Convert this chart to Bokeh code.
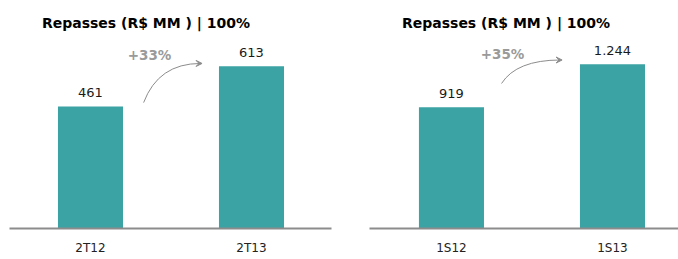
from bokeh.plotting import figure
from bokeh.layouts import row
from bokeh.models import Range1d, FixedTicker, LabelSet, Label, ColumnDataSource, Arrow, VeeHead
from bokeh.core.properties import value
from bokeh.embed import file_html
from bokeh.resources import INLINE

# ---- data ----
title_text = "Repasses (R$ MM ) | 100%"
left_categories = ["2T12", "2T13"]
left_values = [461, 613]
left_value_labels = ["461", "613"]
right_categories = ["1S12", "1S13"]
right_values = [919, 1244]
right_value_labels = ["919", "1.244"]

TEAL = "#3CA3A4"
GRAY = "#8C8C8C"
FONT = "DejaVu Sans"


def panel(cats, vals, labels, width, bl, br, xr, y_end, title_x, growth_x, growth_off, arrow):
    p = figure(width=width, height=259, output_backend="svg", toolbar_location=None,
               x_range=Range1d(*xr), y_range=Range1d(0, y_end), y_axis_location=None,
               min_border_left=bl, min_border_right=br, min_border_top=0, min_border_bottom=31)
    p.outline_line_color = None
    p.xgrid.grid_line_color = None
    p.ygrid.grid_line_color = None
    p.background_fill_color = "white"
    p.border_fill_color = "white"

    idx = list(range(len(cats)))
    src = ColumnDataSource(dict(x=idx, top=vals, text=labels))
    p.vbar(x="x", top="top", width=0.404, source=src, fill_color=TEAL, line_color=None)

    ax = p.xaxis[0]
    ax.ticker = FixedTicker(ticks=idx)
    ax.major_label_overrides = {i: c for i, c in zip(idx, cats)}
    ax.major_tick_out = 0
    ax.major_tick_in = 0
    ax.minor_tick_out = 0
    ax.minor_tick_in = 0
    ax.axis_line_color = GRAY
    ax.axis_line_width = 2
    ax.major_label_standoff = 12
    ax.major_label_text_font = FONT
    ax.major_label_text_font_size = "12px"
    ax.major_label_text_color = "#222222"

    p.add_layout(LabelSet(x="x", y="top", text="text", source=src, y_offset=14,
                          text_align="center", text_baseline="middle",
                          text_font=value(FONT), text_font_size="13px", text_color="#1a1a1a"))

    p.add_layout(Label(x=title_x, y=y_end, y_offset=-22, text=title_text,
                       text_align="center", text_baseline="middle", text_font=FONT,
                       text_font_style="bold", text_font_size="14px", text_color="#000000"))

    pct = round((vals[1] / vals[0] - 1) * 100)
    p.add_layout(Label(x=growth_x, y=vals[1], y_offset=growth_off, text=f"+{pct}%",
                       text_align="center", text_baseline="middle", text_font=FONT,
                       text_font_style="bold", text_font_size="13.5px", text_color="#9A9A9A"))

    x0, y0, cx, cy, x1, y1 = arrow
    p.quadratic(x0=[x0], y0=[y0], cx=[cx], cy=[cy], x1=[x1], y1=[y1],
                line_color=GRAY, line_width=1)
    p.add_layout(Arrow(end=VeeHead(size=6, line_color=GRAY, fill_color=GRAY, line_width=1),
                       x_start=x1 - 0.01, y_start=y1, x_end=x1 + 0.01, y_end=y1,
                       line_color=GRAY, line_width=1))
    return p


p1 = panel(left_categories, left_values, left_value_labels, 345, 9, 14,
           (-0.503, 1.497), 862, 0.345, 0.367, 11,
           (0.330, 476, 0.422, 624, 0.683, 624))
p2 = panel(right_categories, right_values, right_value_labels, 333, 24, 0,
           (-0.509, 1.410), 1728, 0.339, 0.317, 10,
           (0.311, 1099, 0.404, 1277, 0.677, 1277))

layout = row(p1, p2)
open("out.html", "w").write(file_html(layout, INLINE))
